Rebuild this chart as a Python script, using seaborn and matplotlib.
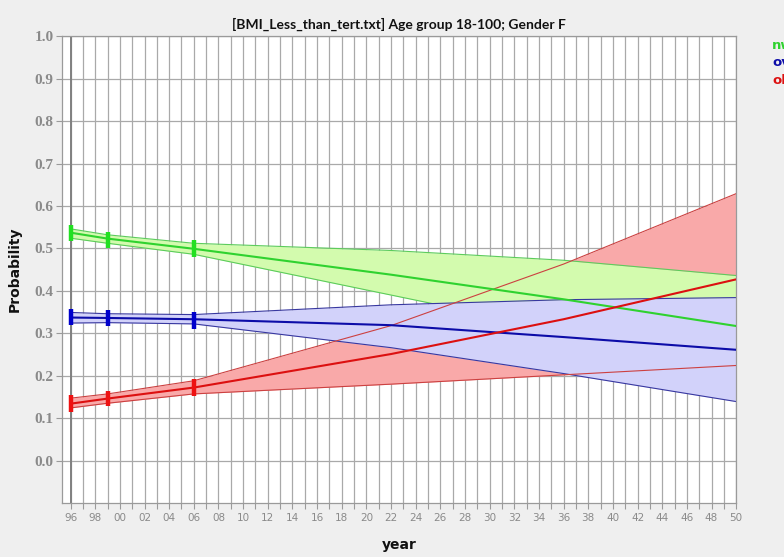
import numpy as np
import pandas as pd
import matplotlib
matplotlib.use("Agg")
import matplotlib.pyplot as plt
import seaborn as sns
from matplotlib.ticker import FixedLocator, FuncFormatter

# ---- data ----
years = [1996, 1999, 2006, 2022, 2036, 2050]
obs_years = [1996, 1999, 2006]
series = ["nw", "ov", "ob"]

nw_mean = [0.537, 0.523, 0.499, 0.438, 0.380, 0.317]
nw_upper = [0.546, 0.532, 0.512, 0.495, 0.472, 0.436]
nw_lower = [0.524, 0.512, 0.486, 0.390, 0.306, 0.222]
nw_obs = [0.537, 0.520, 0.500]
nw_err = [0.019, 0.018, 0.020]

ov_mean = [0.337, 0.336, 0.333, 0.319, 0.291, 0.261]
ov_upper = [0.349, 0.346, 0.344, 0.367, 0.379, 0.384]
ov_lower = [0.324, 0.325, 0.322, 0.266, 0.205, 0.139]
ov_obs = [0.338, 0.336, 0.331]
ov_err = [0.019, 0.019, 0.020]

ob_mean = [0.134, 0.146, 0.172, 0.251, 0.333, 0.427]
ob_upper = [0.147, 0.157, 0.188, 0.318, 0.463, 0.629]
ob_lower = [0.124, 0.135, 0.157, 0.180, 0.202, 0.224]
ob_obs = [0.134, 0.146, 0.172]
ob_err = [0.020, 0.018, 0.020]

y_ticks = [0.0, 0.1, 0.2, 0.3, 0.4, 0.5, 0.6, 0.7, 0.8, 0.9, 1.0]
x_major = list(range(1996, 2051, 2))
x_minor = list(range(1996, 2051, 1))

title = "[BMI_Less_than_tert.txt] Age group 18-100; Gender F"

line_colors = {"nw": "#2fd22f", "ov": "#0c0ca8", "ob": "#dc1010"}
fill_colors = {"nw": "#d3fbae", "ov": "#d2d2fa", "ob": "#f9a9a9"}
edge_colors = {"nw": "#5ccc5c", "ov": "#3838a0", "ob": "#cc4040"}
bar_colors = {"nw": "#22e022", "ov": "#0000cc", "ob": "#ee1111"}

means = {"nw": nw_mean, "ov": ov_mean, "ob": ob_mean}
uppers = {"nw": nw_upper, "ov": ov_upper, "ob": ob_upper}
lowers = {"nw": nw_lower, "ov": ov_lower, "ob": ob_lower}
obs = {"nw": nw_obs, "ov": ov_obs, "ob": ob_obs}
errs = {"nw": nw_err, "ov": ov_err, "ob": ob_err}

df = pd.concat([pd.DataFrame({"year": years, "prob": means[s], "group": s}) for s in series])

sns.set_style("white")
plt.rcParams['font.family'] = ['DejaVu Sans']

fig = plt.figure(figsize=(7.84, 5.57), dpi=100, facecolor="#efefef")
ax = fig.add_axes([0.079, 0.097, 0.860, 0.838])
ax.set_facecolor("white")

# layering as in the original: red band, green band (+edges), blue band (+edges), red edges on top
layer = {"ob": 2.0, "nw": 2.2, "ov": 2.4}
for s in series:
    z = layer[s]
    ax.fill_between(years, lowers[s], uppers[s], color=fill_colors[s], lw=0, zorder=z)
    edge_z = 3.0 if s == "ob" else z + 0.05
    ax.plot(years, uppers[s], color=edge_colors[s], lw=0.8, zorder=edge_z)
    ax.plot(years, lowers[s], color=edge_colors[s], lw=0.8, zorder=edge_z)

sns.lineplot(data=df, x="year", y="prob", hue="group", palette=line_colors,
             hue_order=series, errorbar=None, legend=False, lw=1.5, ax=ax, zorder=4)

for s in series:
    ax.errorbar(obs_years, obs[s], yerr=errs[s], fmt="none", ecolor=bar_colors[s],
                elinewidth=3.2, capsize=0, zorder=5)

ax.set_xlim(1995.3, 2050)
ax.set_ylim(-0.1, 1.0)

ax.xaxis.set_major_locator(FixedLocator(x_major))
ax.xaxis.set_minor_locator(FixedLocator(x_minor))
ax.xaxis.set_major_formatter(FuncFormatter(lambda v, p: f"{int(round(v)) % 100:02d}"))
ax.yaxis.set_major_locator(FixedLocator(y_ticks))
ax.yaxis.set_major_formatter(FuncFormatter(lambda v, p: f"{v:.1f}"))

ax.grid(True, which="both", axis="x", color="#a9a9a9", lw=0.9, zorder=0)
ax.grid(True, which="major", axis="y", color="#a9a9a9", lw=0.9, zorder=0)
ax.set_axisbelow(True)
ax.axvline(obs_years[0], color="#808080", lw=1.4, zorder=1)

for sp in ax.spines.values():
    sp.set_color("#9a9a9a")
    sp.set_linewidth(0.9)

ax.tick_params(axis="x", which="both", direction="out", length=4, width=0.8,
               color="#9a9a9a", labelcolor="#8a8a8a", labelsize=7.5, bottom=True, pad=3)
ax.tick_params(axis="y", which="major", direction="out", length=4, width=0.8,
               color="#9a9a9a", labelcolor="#8a8a8a", labelsize=11, left=True, pad=2)
for lab in ax.get_yticklabels():
    lab.set_fontfamily("Liberation Serif")
    lab.set_fontweight("bold")

ax.set_title(title, fontsize=10, fontweight="bold", family="Lato", color="#111111", pad=5)
ax.set_xlabel("year", fontsize=10, fontweight="bold", color="#111111", labelpad=11)
ax.set_ylabel("Probability", fontsize=10, fontweight="bold", color="#111111", labelpad=9)

# colored series labels at the right edge (cut off, as in the original)
for i, s in enumerate(series):
    fig.text(0.985, 0.918 - i * 0.031, s, color=line_colors[s], fontsize=9.5,
             fontweight="bold", ha="left", va="center")

fig.savefig("out.png", dpi=100, facecolor=fig.get_facecolor())
